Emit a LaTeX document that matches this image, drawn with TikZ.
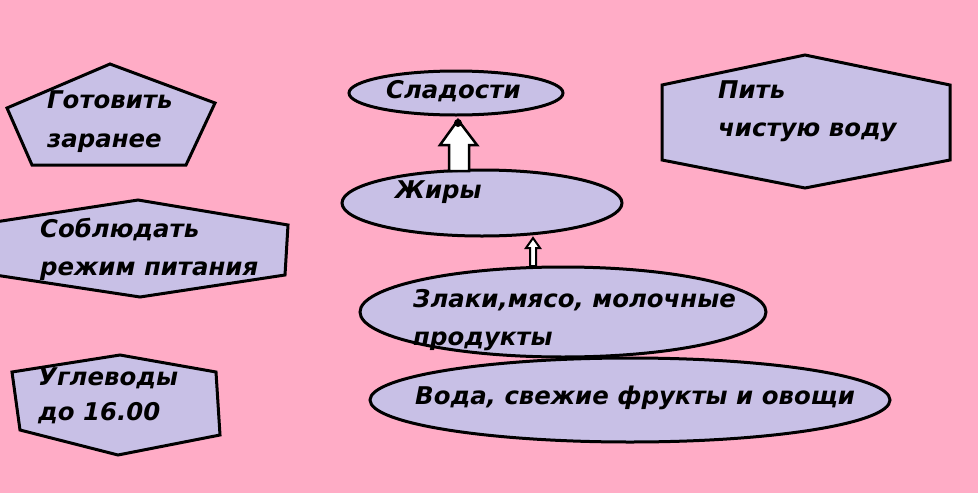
\documentclass[tikz,border=0pt]{standalone}
\usepackage{fontspec}
\setmainfont{DejaVu Sans}
\usetikzlibrary{shapes.geometric}
\definecolor{bgpink}{HTML}{FFACC6}
\definecolor{lav}{HTML}{C8C0E6}
\tikzset{
  shp/.style={draw=black,line width=3pt,fill=lav,line join=miter},
  ell/.style={shp,ellipse,inner sep=0pt},
  txt/.style={anchor=base west,inner sep=0pt,font=\fontsize{24.4}{27}\selectfont\bfseries\itshape},
  blk/.style={draw=black,line width=2.5pt,fill=white,line join=miter}
}
\begin{document}
\begin{tikzpicture}[x=1pt,y=-1pt]
\fill[bgpink] (0,0) rectangle (978,493);
\useasboundingbox (0,0) rectangle (978,493);
% left shapes
\draw[shp] (110,64) -- (215,103) -- (186,165) -- (32,165) -- (7,108) -- cycle;
\draw[shp] (-5,222) -- (138,200) -- (288,225) -- (285,275) -- (140,297) -- (-5,275) -- cycle;
\draw[shp] (12,372) -- (120,355) -- (216,372) -- (220,435) -- (118,455) -- (20,430) -- cycle;
\draw[shp] (662,85) -- (805,55) -- (950,85) -- (950,160) -- (805,188) -- (662,160) -- cycle;
% ellipses
\node[ell,minimum width=214pt,minimum height=44pt] (sl) at (456,93) {};
\node[ell,minimum width=280pt,minimum height=66pt] (zh) at (482,203) {};
\node[ell,minimum width=406pt,minimum height=90pt] (zl) at (563,312) {};
\node[ell,minimum width=520pt,minimum height=84pt] (vo) at (630,400) {};
% arrows
\draw[blk] (449,171) -- (449,145) -- (440,145) -- (458,120) -- (477,145) -- (469,145) -- (469,171) -- cycle;
\fill (458,123) circle (4pt);
\draw[blk,line width=2pt] (530,266) -- (530,248) -- (526,248) -- (533,238) -- (540,248) -- (536,248) -- (536,266) -- cycle;
% texts
\node[txt] (t1) at (47,108) {Готовить};
\node[txt] (t2) at (47,147) {заранее};
\node[txt] (t3) at (40,237) {Соблюдать};
\node[txt] (t4) at (40,275) {режим питания};
\node[txt] (t5) at (38,385) {Углеводы};
\node[txt] (t6) at (38,420) {до 16.00};
\node[txt] (t7) at (718,98) {Пить};
\node[txt] (t8) at (718,136) {чистую воду};
\node[txt] (t9) at (386,98) {Сладости};
\node[txt] (t10) at (395,198) {Жиры};
\node[txt] (t11) at (413,307) {Злаки,мясо, молочные};
\node[txt] (t12) at (413,345) {продукты};
\node[txt] (t13) at (415,404) {Вода, свежие фрукты и овощи};
\end{tikzpicture}
\end{document}
